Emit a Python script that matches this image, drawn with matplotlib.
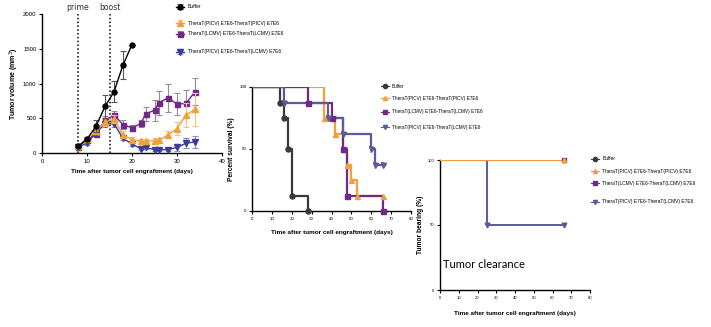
import matplotlib
matplotlib.use("Agg")
import matplotlib.pyplot as plt
import numpy as np

plt.rcParams['font.family'] = ['Liberation Sans', 'DejaVu Sans']

# ---------------- data ----------------
labels = ["Buffer",
          "TheraT(PICV) E7E6-TheraT(PICV) E7E6",
          "TheraT(LCMV) E7E6-TheraT(LCMV) E7E6",
          "TheraT(PICV) E7E6-TheraT(LCMV) E7E6"]

# Panel 1: tumor volume
buf_days = [8, 10, 12, 14, 16, 18, 20]
buf_vol = [95, 200, 385, 670, 880, 1265, 1560]
buf_err = [10, 25, 90, 170, 150, 200, 0]

days = [8, 10, 12, 14, 16, 18, 20, 22, 23, 25, 26, 28, 30, 32, 34]
picv_vol = [96, 207, 313, 448, 487, 260, 193, 170, 173, 175, 183, 260, 352, 545, 627]
picv_err = [10, 20, 40, 60, 60, 50, 40, 30, 30, 40, 40, 50, 100, 170, 240]
lcmv_vol = [90, 190, 280, 470, 545, 410, 360, 425, 560, 617, 723, 795, 704, 713, 882]
lcmv_err = [10, 20, 40, 60, 60, 70, 50, 50, 100, 150, 170, 200, 160, 200, 190]
het_vol = [90, 140, 290, 420, 420, 210, 130, 60, 80, 50, 45, 50, 80, 140, 160]
het_err = [10, 20, 30, 40, 40, 30, 30, 20, 20, 15, 15, 20, 50, 70, 90]

prime_day = 8
boost_day = 15

# Panel 2: survival (step curves)
surv_buf_t = [0, 14, 16, 18, 20, 28]
surv_buf_s = [100, 87.5, 75, 50, 12.5, 0]
surv_picv_t = [0, 36, 42, 46, 48, 50, 53, 66]
surv_picv_s = [100, 75, 62.5, 50, 37.5, 25, 12.5, 12.5]
surv_lcmv_t = [0, 28, 40, 46, 48, 66]
surv_lcmv_s = [100, 87.5, 75, 50, 12.5, 0]
surv_het_t = [0, 16, 38, 46, 60, 62, 66]
surv_het_s = [100, 87.5, 75, 62.5, 50, 37.5, 37.5]

# Panel 3: tumor bearing
tb_picv_t = [0, 66]
tb_picv_s = [100, 100]
tb_lcmv_t = [0, 66]
tb_lcmv_s = [100, 100]
tb_het_t = [0, 25, 66]
tb_het_s = [100, 50, 50]

# ---------------- styles ----------------
c_buf = '#000000'
c_picv = '#F2A03C'
c_lcmv = '#6E2A84'
c_het = '#3B3D96'
e_picv = '#F5C27E'
e_lcmv = '#9A8A9E'
e_het = '#8D90B8'
c_buf2 = '#3A3A3A'
c_het2 = '#5A5B9A'

W, H = 711, 327
fig = plt.figure(figsize=(W / 100, H / 100), dpi=100)

def px_axes(x0, y0, x1, y1):
    return fig.add_axes([x0 / W, 1 - y1 / H, (x1 - x0) / W, (y1 - y0) / H])

def style(ax, tsize):
    for s in ['top', 'right']:
        ax.spines[s].set_visible(False)
    for s in ['left', 'bottom']:
        ax.spines[s].set_linewidth(1.0)
    ax.tick_params(direction='out', length=2.5, width=0.8, labelsize=tsize, pad=1.5)

def entry_legend(handle, label, x, y, size=3.2):
    lg = fig.legend([handle], [label], loc='center left', bbox_to_anchor=(x / W, 1 - y / H),
                    frameon=False, fontsize=size, handlelength=1.6, handletextpad=0.7,
                    borderpad=0, borderaxespad=0)
    return lg

# ---------------- Panel 1 ----------------
ax1 = px_axes(42, 14, 222, 153)
style(ax1, 4.3)
ms = 3.6
h0 = ax1.errorbar(buf_days, buf_vol, yerr=buf_err, color=c_buf, marker='o', ms=ms, lw=1.0,
                  ecolor='#555555', elinewidth=0.8, capsize=2, capthick=0.8, zorder=5)
h1 = ax1.errorbar(days, picv_vol, yerr=picv_err, color=c_picv, marker='^', ms=ms + 0.4, lw=1.0,
                  ecolor=e_picv, elinewidth=0.8, capsize=2, capthick=0.8, zorder=4)
h2 = ax1.errorbar(days, lcmv_vol, yerr=lcmv_err, color=c_lcmv, marker='s', ms=ms, lw=1.0,
                  ecolor=e_lcmv, elinewidth=0.8, capsize=2, capthick=0.8, zorder=3)
h3 = ax1.errorbar(days, het_vol, yerr=het_err, color=c_het, marker='v', ms=ms + 0.4, lw=1.0,
                  ecolor=e_het, elinewidth=0.8, capsize=2, capthick=0.8, zorder=3.5)
ax1.set_xlim(0, 40)
ax1.set_ylim(0, 2000)
ax1.set_xticks([0, 10, 20, 30, 40])
ax1.set_yticks([0, 500, 1000, 1500, 2000])
for d, name in [(prime_day, 'prime'), (boost_day, 'boost')]:
    ax1.axvline(d, ymin=0, ymax=1.0, color='black', ls=(0, (1, 1.5)), lw=1.1, clip_on=False)
    ax1.text(d, 2100, name, ha='center', va='center', fontsize=5.6, color='#333333',
             family='DejaVu Sans')
ax1.set_xlabel('Time after tumor cell engraftment (days)', fontsize=4.6, fontweight='bold', labelpad=4)
ax1.set_ylabel('Tumor volume (mm$^3$)', fontsize=5, fontweight='bold', labelpad=1.5)

leg_x1 = 176
for h, lab, y in zip([h0, h1, h2, h3], labels, [7, 23, 34, 52]):
    entry_legend(h, lab, leg_x1, y, size=3.6)

# ---------------- Panel 2 ----------------
ax2 = px_axes(252, 87, 411, 211)
style(ax2, 3.2)
lw2 = 1.6
ms2 = 3.6
series2 = [(surv_buf_t, surv_buf_s, c_buf2, 'o'),
           (surv_picv_t, surv_picv_s, c_picv, '^'),
           (surv_lcmv_t, surv_lcmv_s, c_lcmv, 's'),
           (surv_het_t, surv_het_s, c_het2, 'v')]
hand2 = []
for t, s, c, m in series2:
    ax2.step(t, s, where='post', color=c, lw=lw2, zorder=3)
    ax2.plot(t[1:], s[1:], ls='none', marker=m, color=c, ms=ms2, zorder=4, clip_on=False)
    hand2.append(plt.Line2D([], [], color=c, marker=m, ms=3, lw=0.8))
ax2.set_xlim(0, 80)
ax2.set_ylim(0, 100)
ax2.set_xticks(range(0, 81, 10))
ax2.set_yticks([0, 50, 100])
ax2.set_xlabel('Time after tumor cell engraftment (days)', fontsize=4.6, fontweight='bold', labelpad=7)
ax2.set_ylabel('Percent survival (%)', fontsize=4.8, fontweight='bold', labelpad=3)
for h, lab, y in zip(hand2, labels, [86, 98, 112, 127]):
    entry_legend(h, lab, 381, y, size=3.4)

# ---------------- Panel 3 ----------------
ax3 = px_axes(440, 160, 590, 290)
style(ax3, 3.0)
series3 = [(tb_het_t, tb_het_s, c_het2, 'v'),
           (tb_lcmv_t, tb_lcmv_s, c_lcmv, 's'),
           (tb_picv_t, tb_picv_s, c_picv, '^')]
for t, s, c, m in series3:
    ax3.step(t, s, where='post', color=c, lw=1.4, zorder=3)
    ax3.plot(t[1:], s[1:], ls='none', marker=m, color=c, ms=3.4, zorder=4, clip_on=False)
ax3.set_xlim(0, 80)
ax3.set_ylim(0, 100)
ax3.set_xticks(range(0, 81, 10))
ax3.set_yticks([0, 50, 100])
ax3.set_xlabel('Time after tumor cell engraftment (days)', fontsize=4.6, fontweight='bold', labelpad=8)
ax3.set_ylabel('Tumor bearing (%)', fontsize=4.8, fontweight='bold', labelpad=3)
ax3.text(0.02, 0.2, 'Tumor clearance', transform=ax3.transAxes, fontsize=8.0,
         family='Lato', va='center', ha='left')
hand3 = [plt.Line2D([], [], color=c_buf2, marker='o', ms=3, lw=0.8),
         plt.Line2D([], [], color=c_picv, marker='^', ms=3, lw=0.8),
         plt.Line2D([], [], color=c_lcmv, marker='s', ms=3, lw=0.8),
         plt.Line2D([], [], color=c_het2, marker='v', ms=3, lw=0.8)]
for h, lab, y in zip(hand3, labels, [159, 171, 183, 202]):
    entry_legend(h, lab, 591, y, size=3.5)

fig.savefig('out.png', dpi=100)
